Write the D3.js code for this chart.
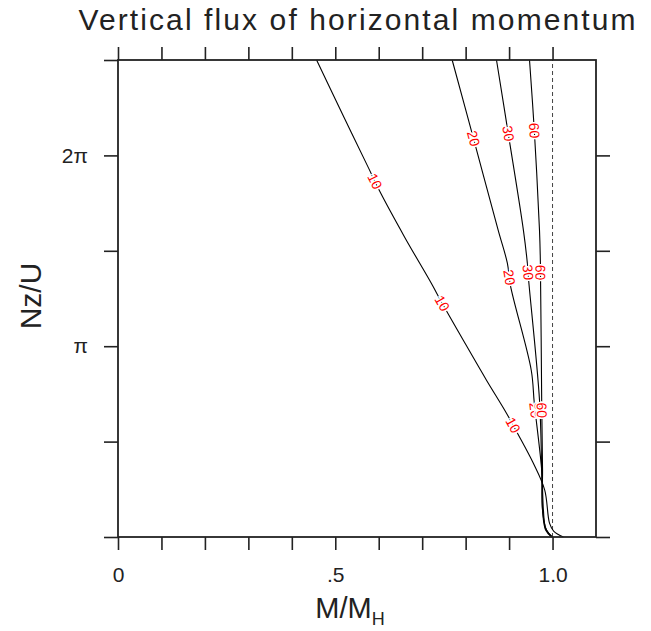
<!DOCTYPE html>
<html>
<head>
<meta charset="utf-8">
<script src="https://cdn.jsdelivr.net/npm/d3@7"></script>
<style>
  body { margin: 0; background: #fff; }
  text { font-family: "Liberation Sans", Arial, sans-serif; }
</style>
</head>
<body>
<svg id="fig" width="651" height="631"></svg>
<script>
// M/M_H against Nz/U (height in multiples of pi), one curve per run
var curveNames = ["10", "20", "30", "60"];
var curveX = [
  [0.457, 0.52, 0.577, 0.600, 0.660, 0.721, 0.746, 0.800, 0.848, 0.894, 0.919, 0.955, 0.982, 0.993, 1.003, 1.025],
  [0.769, 0.818, 0.875, 0.896, 0.903, 0.951, 0.958, 0.975, 0.979, 0.984, 0.998],
  [0.871, 0.898, 0.933, 0.942, 0.945, 0.970, 0.975, 0.977, 0.984, 0.998],
  [0.947, 0.958, 0.970, 0.972, 0.975, 0.977, 0.977, 0.986, 1.000]
];
var curveZ = [
  [2.5, 2.2, 1.932, 1.822, 1.57, 1.33, 1.225, 1.01, 0.822, 0.649, 0.545, 0.39, 0.246, 0.073, 0.03, 0],
  [2.5, 2.089, 1.607, 1.435, 1.319, 0.874, 0.702, 0.351, 0.141, 0.047, 0],
  [2.5, 2.115, 1.607, 1.435, 1.346, 0.717, 0.351, 0.141, 0.037, 0],
  [2.5, 2.131, 1.607, 1.44, 0.717, 0.351, 0.141, 0.037, 0]
];
// heights (in pi) where each curve carries its label
var labelZ = [
  [1.864, 1.225, 0.586],
  [2.089, 1.361, 0.665],
  [2.115, 1.387, 0.665],
  [2.131, 1.387, 0.665]
];
var xTickVals = [0, 0.1, 0.2, 0.3, 0.4, 0.5, 0.6, 0.7, 0.8, 0.9, 1.0];
var xTickText = {0: "0", 0.5: ".5", 1: "1.0"};
var yTickVals = [0, 0.5, 1, 1.5, 2, 2.5];
var yRightVals = [0, 0.5, 1, 1.5, 2];
var yTickText = {1: "\u03c0", 2: "2\u03c0"};

var padL = 118, padR = 596, padT = 60, padB = 537;
var svg = d3.select("#fig");
var x = d3.scaleLinear().domain([0, 1.1]).range([padL, padR]);
var y = d3.scaleLinear().domain([0, 2.5]).range([padB, padT]);
var ink = "#222";

// title
svg.append("text")
  .attr("x", (padL + padR) / 2).attr("y", 30)
  .attr("text-anchor", "middle")
  .attr("font-size", 30).attr("fill", ink)
  .attr("textLength", 557).attr("lengthAdjust", "spacing")
  .text("Vertical flux of horizontal momentum");

// reference line at M/M_H = 1
svg.append("line")
  .attr("x1", x(1)).attr("x2", x(1))
  .attr("y1", y(0)).attr("y2", y(2.5))
  .attr("stroke", "#444").attr("stroke-width", 1)
  .attr("stroke-dasharray", "4,3");

// curves
var line = d3.line()
  .x(function(d) { return x(d[0]); })
  .y(function(d) { return y(d[1]); })
  .curve(d3.curveCatmullRom.alpha(0.5));

curveNames.forEach(function(name, i) {
  var pts = curveX[i].map(function(v, j) { return [v, curveZ[i][j]]; });
  svg.append("path")
    .attr("d", line(pts))
    .attr("fill", "none")
    .attr("stroke", "#000")
    .attr("stroke-width", 1.1);
});

// labels on the curves
function xAt(i, z) {
  var zs = curveZ[i], xs = curveX[i];
  for (var j = 0; j < zs.length - 1; j++) {
    if (z <= zs[j] && z >= zs[j + 1]) {
      var t = (z - zs[j]) / (zs[j + 1] - zs[j]);
      return xs[j] + t * (xs[j + 1] - xs[j]);
    }
  }
  return xs[xs.length - 1];
}
curveNames.forEach(function(name, i) {
  labelZ[i].forEach(function(z) {
    var px = x(xAt(i, z)), py = y(z);
    var px2 = x(xAt(i, z - 0.06)), py2 = y(z - 0.06);
    var ang = Math.atan2(py2 - py, px2 - px) * 180 / Math.PI;
    svg.append("text")
      .attr("transform", "translate(" + px + "," + py + ") rotate(" + ang + ")")
      .attr("text-anchor", "middle").attr("dy", "0.35em")
      .attr("font-size", 14).attr("fill", "#f00")
      .attr("stroke", "#fff").attr("stroke-width", 3)
      .attr("paint-order", "stroke")
      .text(name);
  });
});

// axes
function styleAxis(g) {
  g.select(".domain").remove();
  g.selectAll("line").attr("stroke", ink).attr("stroke-width", 1.6);
  g.selectAll("text").attr("fill", ink).attr("font-size", 21)
    .attr("font-family", "Liberation Sans, Arial, sans-serif");
}
svg.append("g").attr("transform", "translate(0," + padB + ")")
  .call(d3.axisBottom(x).tickValues(xTickVals).tickSize(13).tickPadding(17)
    .tickFormat(function(d) { return xTickText[Math.round(d * 10) / 10] || ""; }))
  .call(styleAxis);
svg.append("g").attr("transform", "translate(0," + padT + ")")
  .call(d3.axisTop(x).tickValues(xTickVals).tickSize(13).tickFormat(""))
  .call(styleAxis);
svg.append("g").attr("transform", "translate(" + padL + ",0)")
  .call(d3.axisLeft(y).tickValues(yTickVals).tickSize(14).tickPadding(16)
    .tickFormat(function(d) { return yTickText[d] || ""; }))
  .call(styleAxis);
svg.append("g").attr("transform", "translate(" + padR + ",0)")
  .call(d3.axisRight(y).tickValues(yRightVals).tickSize(14).tickFormat(""))
  .call(styleAxis);

// frame
svg.append("rect")
  .attr("x", padL).attr("y", padT)
  .attr("width", padR - padL).attr("height", padB - padT)
  .attr("fill", "none").attr("stroke", ink).attr("stroke-width", 1.8);

// axis titles
var xl = svg.append("text")
  .attr("x", 350).attr("y", 618)
  .attr("text-anchor", "middle").attr("font-size", 29).attr("fill", ink);
xl.append("tspan").text("M/M");
xl.append("tspan").attr("font-size", 18).attr("dy", 7).text("H");

svg.append("text")
  .attr("transform", "translate(41,296) rotate(-90)")
  .attr("text-anchor", "middle").attr("font-size", 30).attr("fill", ink)
  .text("Nz/U");
</script>
</body>
</html>
